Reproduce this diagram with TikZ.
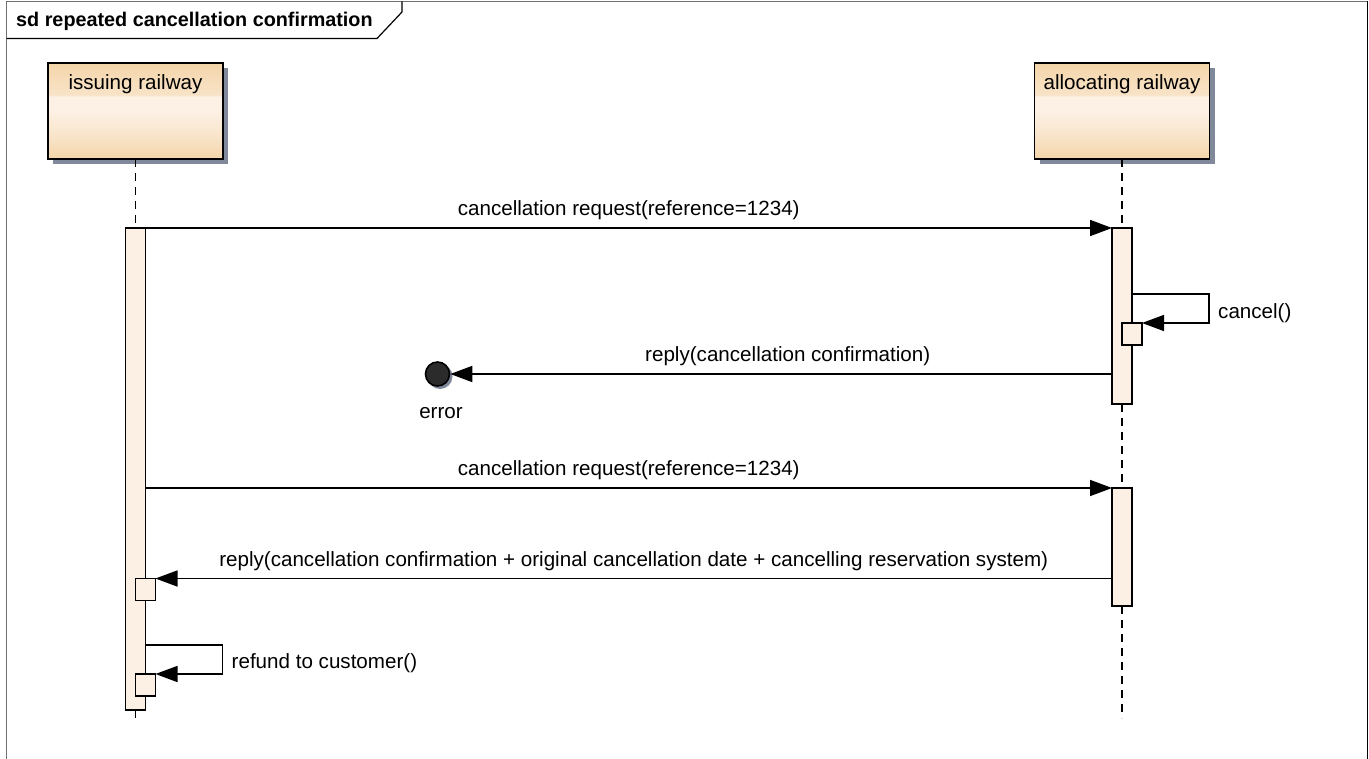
\documentclass[tikz,border=0pt]{standalone}
\usepackage{fontspec}
\setmainfont{Liberation Sans}
\usetikzlibrary{arrows.meta,calc,shadows}
\definecolor{actfill}{HTML}{FBF0E3}
\definecolor{shadowc}{HTML}{7F899A}
\definecolor{framegrey}{HTML}{707070}
\definecolor{hdark}{HTML}{F4D5A9}
\definecolor{hmid}{HTML}{F8E3C8}
\definecolor{hlight}{HTML}{FCF1E4}
\definecolor{errfill}{HTML}{2B2B2B}
\pgfdeclareverticalshading{headshade}{100bp}{%
  color(0bp)=(hdark); color(25bp)=(hdark); color(36bp)=(hmid);
  color(50bp)=(hlight); color(57.5bp)=(hlight); color(58.5bp)=(hmid);
  color(75bp)=(hdark); color(100bp)=(hdark)}
\tikzset{
  txt/.style={font=\fontsize{20.6}{24}\selectfont, inner sep=0pt},
  headbox/.style={draw=black, line width=1.6pt, shading=headshade,
    minimum width=175pt, minimum height=96pt, inner sep=0pt, outer sep=0pt,
    drop shadow={shadow xshift=5pt, shadow yshift=-5pt, fill=shadowc, opacity=1}},
  actbar/.style={draw=black, line width=1.6pt, fill=actfill,
    minimum width=20pt, inner sep=0pt, outer sep=0pt},
  actsmall/.style={draw=black, line width=1.6pt, fill=actfill,
    minimum width=20pt, minimum height=22pt, inner sep=0pt, outer sep=0pt},
  msg/.style={line width=1.6pt, -{Triangle[length=22pt,width=16pt]}},
  lifeline/.style={line width=1.6pt, dash pattern=on 8pt off 6pt},
}
\begin{document}
\begin{tikzpicture}[x=1pt,y=-1pt]
\useasboundingbox (0,0) rectangle (1369,759);
% frame
\draw[framegrey, line width=1.5pt] (6.5,770) -- (6.5,1.5) -- (1367.5,1.5);
\draw[black, line width=1.5pt] (1367.5,1.5) -- (1367.5,770);
\draw[black, line width=1.2pt] (6.5,38.5) -- (377,38.5) -- (402,12) -- (402,1.5);
\node[txt, font=\fontsize{19.8}{23}\selectfont\bfseries, anchor=west] (title) at (16,21) {sd repeated cancellation confirmation};

% lifeline heads
\node[headbox] (ir) at (135.5,111) {};
\node[txt, anchor=north] (irl) at ($(ir.north)+(0,11)$) {issuing railway};
\node[headbox] (ar) at (1122,111) {};
\node[txt, anchor=north] (arl) at ($(ar.north)+(0,11)$) {allocating railway};

% activation bars
\node[actbar, minimum height=482pt] (ia) at (135.5,469) {};
\node[actbar, minimum height=176pt] (aa1) at (1122,316) {};
\node[actbar, minimum height=118pt] (aa2) at (1122,547) {};
\node[actsmall] (cb) at (1132,334) {};
\node[actsmall] (rb1) at (145.5,589.5) {};
\node[actsmall] (rb2) at (145.5,685) {};

% lifelines
\draw[lifeline] (ir.south) -- (ia.north);
\draw[lifeline] (ia.south) -- ++(0,8) coordinate (ie);
\draw[lifeline] (ar.south) -- (aa1.north);
\draw[lifeline] (aa1.south) -- (aa2.north);
\draw[lifeline] (aa2.south) -- ++(0,112) coordinate (ae);

% error end point
\fill[shadowc] (440,376.5) circle (12.5pt);
\node[circle, draw=black, line width=1.6pt, fill=errfill, minimum size=24pt, inner sep=0pt] (err) at (437.5,374) {};
\node[txt, anchor=north] (errl) at (441,407) {error};

% messages
\draw[msg] (ia.north east) -- node[txt, above=7pt] {cancellation request(reference=1234)} (aa1.north west);
\coordinate (c1) at ($(aa1.east)+(0,-22)$);
\draw[msg] (c1) -- ++(77,0) coordinate (c1r) |- (cb.north east);
\node[txt, anchor=west] (cl) at ($(c1r)+(9,19)$) {cancel()};
\draw[msg] (aa1.west |- err) -- node[txt, above=7pt, pos=0.49] {reply(cancellation confirmation)} (err.east);
\draw[msg] (ia.east |- aa2.north) -- node[txt, above=7pt] {cancellation request(reference=1234)} (aa2.north west);
\draw[msg] (aa2.west |- rb1.north) -- node[txt, above=7pt] {reply(cancellation confirmation + original cancellation date + cancelling reservation system)} (rb1.north east);
\coordinate (r1) at ($(ia.east)+(0,176)$);
\draw[msg] (r1) -- ++(77,0) coordinate (r1r) |- (rb2.north east);
\node[txt, anchor=west] (rl) at ($(r1r)+(9,18)$) {refund to customer()};
\end{tikzpicture}
\end{document}
